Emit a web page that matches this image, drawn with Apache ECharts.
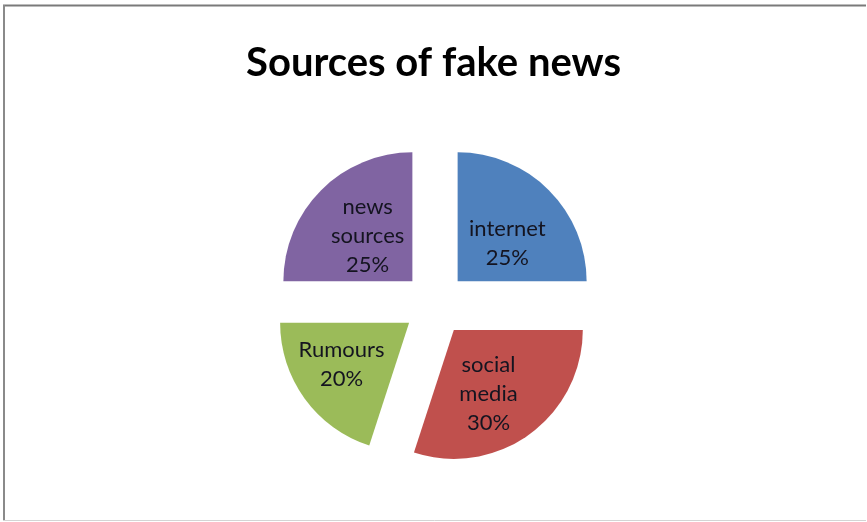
<!DOCTYPE html>
<html>
<head>
<meta charset="utf-8">
<script src="https://cdn.jsdelivr.net/npm/echarts@6/dist/echarts.min.js"></script>
<style>
  html, body { margin: 0; padding: 0; background: #ffffff; }
  #chart { width: 867px; height: 522px; }
</style>
</head>
<body>
<div id="chart"></div>
<script>
// Share of fake news by source, clockwise from 12 o'clock
const categories = ['internet', 'social media', 'Rumours', 'news sources'];
const shares = [25, 30, 20, 25];
const sliceColors = ['#4F81BD', '#C0504D', '#9BBB59', '#8064A2'];

// small nudges so each label sits in the visual middle of its slice
const labelNudge = [[2, 10], [-5, 9], [-13, 2], [3, 2]];

const chart = echarts.init(document.getElementById('chart'), null, { renderer: 'canvas' });

const pieData = categories.map((name, i) => ({
  name: name,
  value: shares[i],
  selected: true,
  itemStyle: { color: sliceColors[i] }
}));

chart.setOption({
  animation: false,
  backgroundColor: '#ffffff',
  title: {
    text: 'Sources of fake news',
    left: 'center',
    top: 38,
    textStyle: {
      fontFamily: 'Lato',
      fontWeight: 'bold',
      fontSize: 40,
      color: '#000000'
    }
  },
  graphic: [
    // frame around the chart area
    { type: 'line', shape: { x1: 3, y1: 5.5, x2: 866, y2: 5.5 }, style: { stroke: '#7a7a7a', lineWidth: 2 }, silent: true },
    { type: 'line', shape: { x1: 4, y1: 5, x2: 4, y2: 521 }, style: { stroke: '#8a8a8a', lineWidth: 2 }, silent: true },
    { type: 'line', shape: { x1: 3, y1: 520.5, x2: 866, y2: 520.5 }, style: { stroke: '#d4d4d4', lineWidth: 1 }, silent: true }
  ],
  series: [{
    type: 'pie',
    center: [435, 304],
    radius: 129,
    startAngle: 90,
    clockwise: true,
    selectedMode: 'multiple',
    selectedOffset: 32,
    avoidLabelOverlap: false,
    silent: true,
    label: {
      show: true,
      position: 'inside',
      formatter: p => p.name.replace(' ', '\n') + '\n' + p.value + '%',
      fontFamily: 'Lato',
      fontSize: 22,
      lineHeight: 29,
      color: '#141420',
      align: 'center'
    },
    labelLayout: params => ({
      dx: labelNudge[params.dataIndex][0],
      dy: labelNudge[params.dataIndex][1]
    }),
    labelLine: { show: false },
    emphasis: { disabled: true },
    itemStyle: { borderWidth: 0 },
    data: pieData
  }]
});
</script>
</body>
</html>
